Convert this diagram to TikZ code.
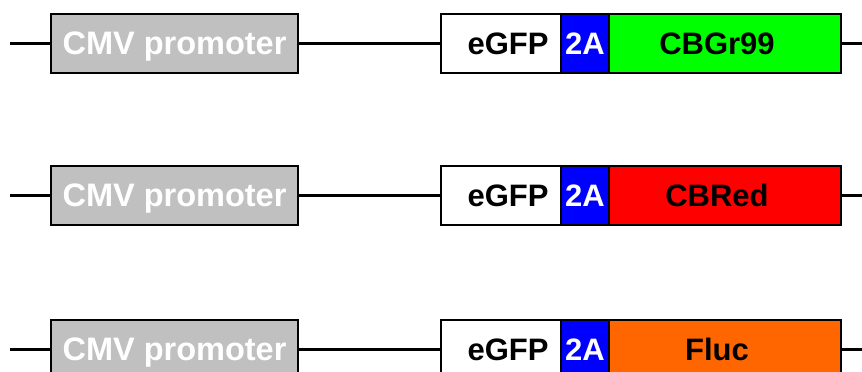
\documentclass[tikz,border=0pt]{standalone}
\usepackage{fontspec}
\setmainfont{Liberation Sans}
\definecolor{cmvgray}{HTML}{C0C0C0}
\definecolor{twoablue}{HTML}{0000FF}
\definecolor{gr99}{HTML}{00FF00}
\definecolor{cbred}{HTML}{FF0000}
\definecolor{fluc}{HTML}{FF6600}
\tikzset{
  segfont/.style={font=\fontsize{31}{36}\selectfont\bfseries, text height=22pt, text depth=0pt},
  seg/.style={draw=black, line width=2.5pt, inner sep=0pt, minimum height=59pt, segfont},
  cmvbox/.style={seg, fill=cmvgray, text=white, minimum width=247pt,
    font=\fontsize{32.5}{36}\selectfont\bfseries},
  egfpbox/.style={seg, fill=white, minimum width=120pt},
  twoabox/.style={seg, fill=twoablue, text=white, minimum width=48pt},
  genebox/.style={seg, minimum width=232pt},
  dnaline/.style={line width=2.5pt, black},
}
\begin{document}
\begin{tikzpicture}[x=1pt,y=-1pt]
\useasboundingbox[fill=white] (0,0) rectangle (862,372);
\foreach \r/\y/\gene/\col in {1/43.5/CBGr99/gr99, 2/195.5/CBRed/cbred, 3/349.5/Fluc/fluc}{
  \coordinate (L\r) at (10,\y);
  \coordinate (R\r) at (864,\y);
  \node[cmvbox] (cmv\r) at (174.5,\y) {CMV promoter};
  \node[egfpbox, label={[xshift=7pt,segfont]center:eGFP}] (egfp\r) at (501,\y) {};
  \node[twoabox] (twoa\r) at (585,\y) {2A};
  \node[genebox, fill=\col, label={[xshift=-8pt,segfont]center:\gene}] (gene\r) at (725,\y) {};
  \draw[dnaline] (L\r) -- (cmv\r.west);
  \draw[dnaline] (cmv\r.east) -- (egfp\r.west);
  \draw[dnaline] (gene\r.east) -- (R\r);
}
\end{tikzpicture}
\end{document}
